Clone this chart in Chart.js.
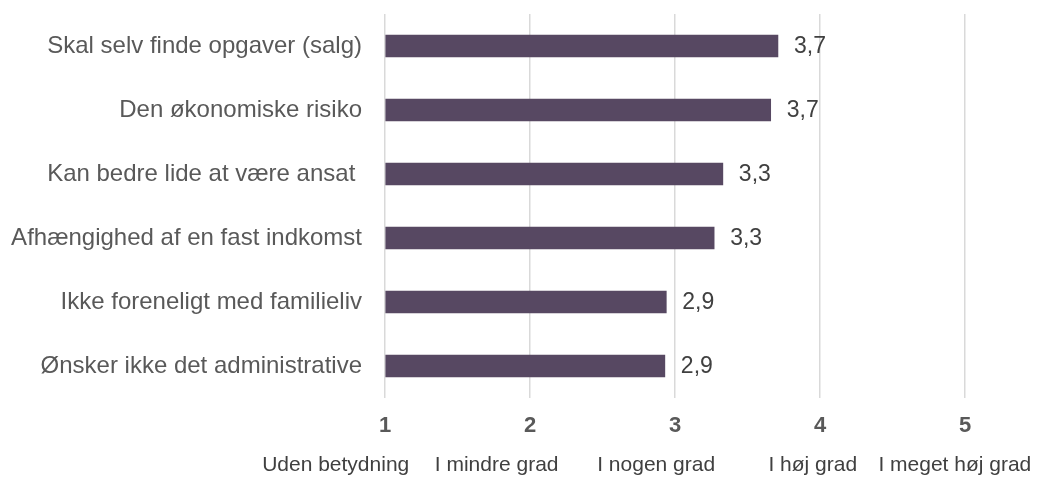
<!DOCTYPE html>
<html>
<head>
<meta charset="utf-8">
<script src="https://cdn.jsdelivr.net/npm/chart.js@4"></script>
<style>
  html, body { margin: 0; padding: 0; background: #fff; overflow: hidden; }
  #wrap { width: 1037px; height: 477px; position: relative; }
  canvas { display: block; }
</style>
</head>
<body>
<div id="wrap"><canvas id="chart"></canvas></div>
<script>
// categories, top to bottom
const categories = [
  "Skal selv finde opgaver (salg)",
  "Den økonomiske risiko",
  "Kan bedre lide at være ansat ",
  "Afhængighed af en fast indkomst",
  "Ikke foreneligt med familieliv",
  "Ønsker ikke det administrative",
];
// average score on the 1-5 scale
const scores = [3.71, 3.66, 3.33, 3.27, 2.94, 2.93];
// scale ticks and their verbal meaning
const scaleTicks = [1, 2, 3, 4, 5];
const scaleLabels = ["Uden betydning", "I mindre grad", "I nogen grad", "I høj grad", "I meget høj grad"];

// the verbal labels sit a little left of their tick in the original layout
const verbalAnchors = [0.66, 1.77, 2.87, 3.95, 4.93];

const FONT = "'Liberation Sans', Arial, sans-serif";
const BAR_COLOR = "#574862";
const GRID_COLOR = "#d9d9d9";

const fmt = (v) => v.toFixed(1).replace(".", ",");

// value labels to the right of each bar
const valueLabels = {
  id: "valueLabels",
  afterDatasetsDraw(chart) {
    const ctx = chart.ctx;
    const meta = chart.getDatasetMeta(0);
    ctx.save();
    ctx.font = "23px " + FONT;
    ctx.fillStyle = "#404040";
    ctx.textAlign = "left";
    ctx.textBaseline = "middle";
    meta.data.forEach((bar, i) => {
      ctx.fillText(fmt(scores[i]), bar.x + 16, bar.y + 1);
    });
    ctx.restore();
  },
};

// keep the axes from pushing the plot area around
const noEdgePadding = (s) => {
  s.paddingTop = 0;
  s.paddingBottom = 0;
  s.paddingLeft = 0;
  s.paddingRight = 0;
};

new Chart(document.getElementById("chart"), {
  type: "bar",
  data: {
    labels: categories,
    datasets: [{
      data: scores,
      base: 1,
      backgroundColor: BAR_COLOR,
      barThickness: 22,
    }],
  },
  options: {
    indexAxis: "y",
    responsive: true,
    maintainAspectRatio: false,
    animation: false,
    layout: { padding: { top: 14, right: 72, bottom: 0, left: 0 } },
    plugins: {
      legend: { display: false },
      tooltip: { enabled: false },
    },
    scales: {
      y: {
        grid: { display: false, drawTicks: false },
        border: { display: false },
        ticks: {
          color: "#595959",
          font: { family: FONT, size: 24 },
          padding: 23,
        },
        afterFit: (s) => { s.width = 385; noEdgePadding(s); },
      },
      x: {
        position: "bottom",
        min: 1,
        max: 5,
        weight: 0,
        grid: { color: GRID_COLOR, lineWidth: 1.5, drawTicks: false },
        border: { display: false },
        ticks: {
          stepSize: 1,
          color: "#595959",
          font: { family: FONT, size: 22, weight: "bold" },
          padding: 15,
          callback: (v) => (scaleTicks.includes(v) ? String(v) : ""),
        },
        afterFit: (s) => { s.height = 45; noEdgePadding(s); },
      },
      x2: {
        type: "linear",
        axis: "x",
        position: "bottom",
        min: 1,
        max: 5,
        weight: 1,
        grid: { display: false, drawTicks: false },
        border: { display: false },
        afterBuildTicks: (s) => { s.ticks = verbalAnchors.map((v) => ({ value: v })); },
        ticks: {
          color: "#404040",
          font: { family: FONT, size: 21 },
          padding: 10,
          autoSkip: false,
          maxRotation: 0,
          callback: (v, i) => scaleLabels[i],
        },
        afterFit: (s) => { s.height = 34; noEdgePadding(s); },
      },
    },
  },
  plugins: [valueLabels],
});
</script>
</body>
</html>
